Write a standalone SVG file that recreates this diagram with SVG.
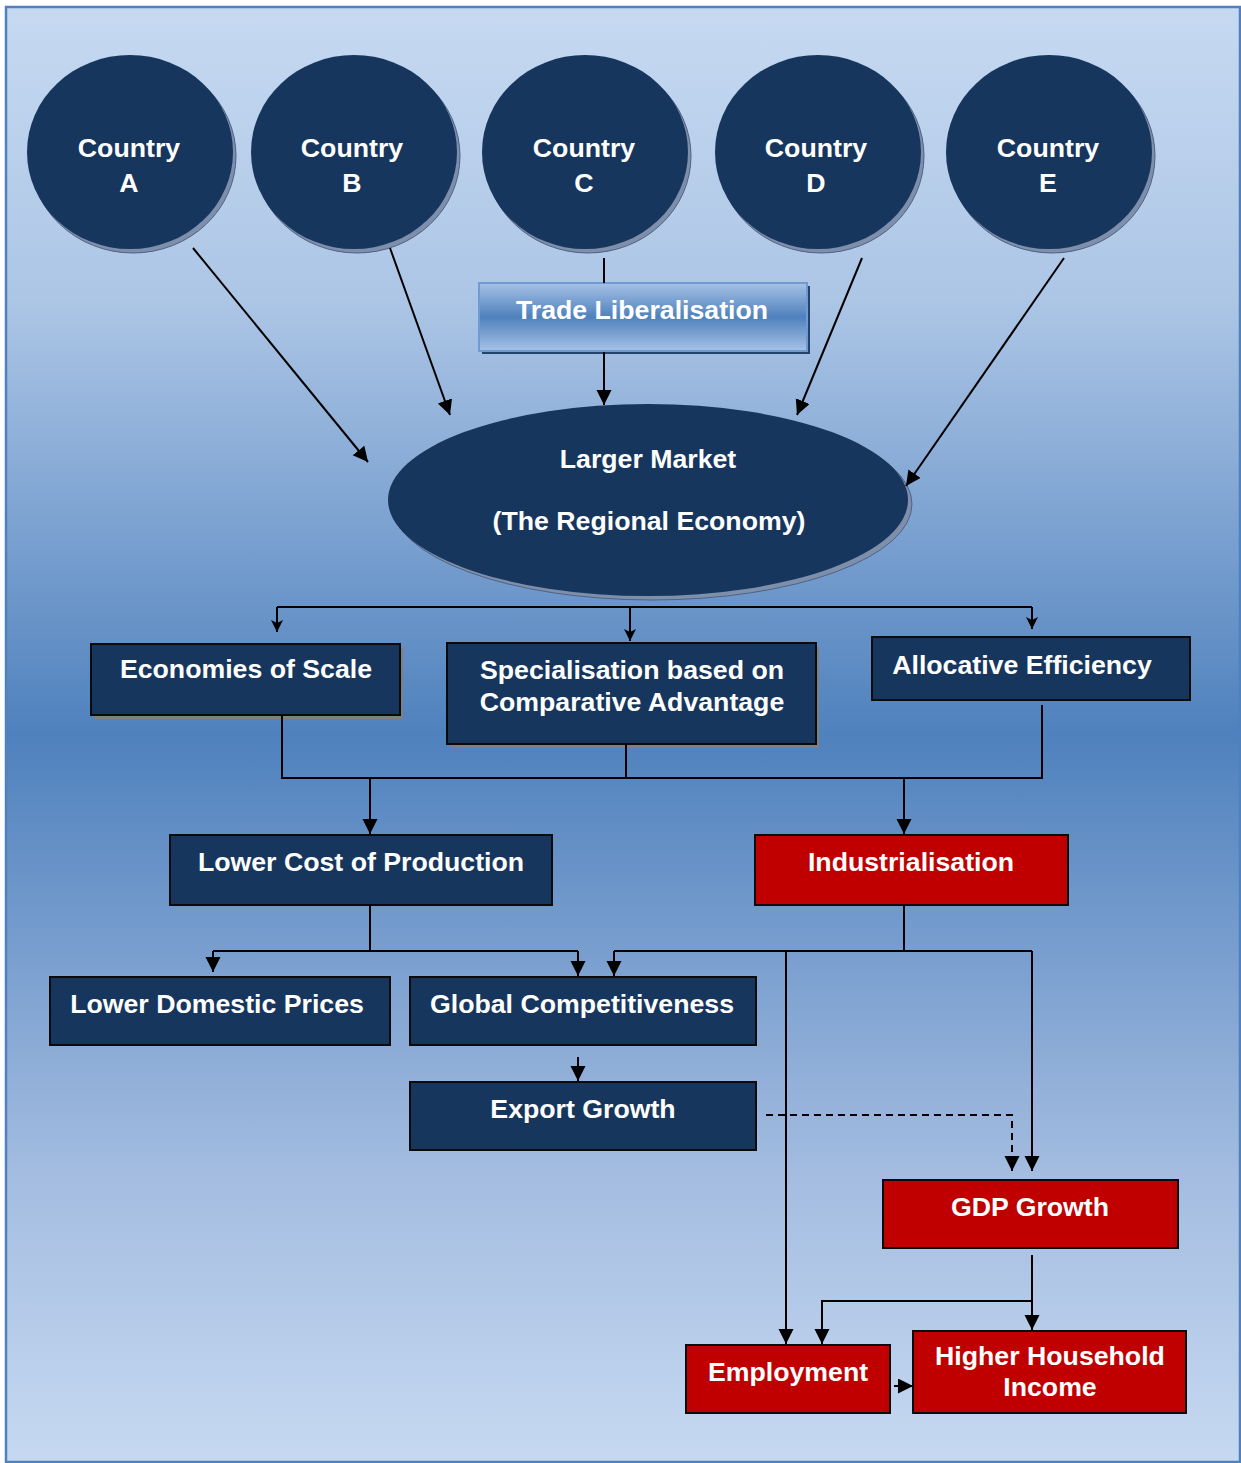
<svg xmlns="http://www.w3.org/2000/svg" width="1241" height="1463" viewBox="0 0 1241 1463">
<defs>
<linearGradient id="bg" x1="0" y1="0" x2="0" y2="1">
<stop offset="0" stop-color="#c6d9f1"/>
<stop offset="0.2" stop-color="#adc6e6"/>
<stop offset="0.5" stop-color="#4f81bd"/>
<stop offset="0.8" stop-color="#a3bce0"/>
<stop offset="1" stop-color="#c6d9f1"/>
</linearGradient>
<linearGradient id="tl" x1="0" y1="0" x2="0" y2="1">
<stop offset="0" stop-color="#a7c2e6"/>
<stop offset="0.5" stop-color="#4f81bd"/>
<stop offset="1" stop-color="#a7c2e6"/>
</linearGradient>
<marker id="ah" markerUnits="userSpaceOnUse" markerWidth="17" markerHeight="17" refX="15" refY="7.5" orient="auto">
<path d="M0,0 L15,7.5 L0,15 z" fill="#000"/>
</marker>
<marker id="as" markerUnits="userSpaceOnUse" markerWidth="14" markerHeight="14" refX="12" refY="6" orient="auto">
<path d="M0,0 L12,6 L0,12 L3,6 z" fill="#000"/>
</marker>
</defs>
<style>
.t{font-family:"Liberation Sans",Arial,sans-serif;font-weight:bold;font-size:26.7px;fill:#fff;text-anchor:middle}
.circ{fill:#17365d}
.csh{fill:#7d8fab;stroke:#4e6285;stroke-width:1}
.blue{fill:#17365d;stroke:#0b0b0b;stroke-width:2}
.red{fill:#c00000;stroke:#0b0b0b;stroke-width:2}
.sh{fill:#7f7f7f}
.ln{fill:none;stroke:#000;stroke-width:2}
.ar{fill:none;stroke:#000;stroke-width:2;marker-end:url(#ah)}
.sa{fill:none;stroke:#000;stroke-width:2;marker-end:url(#as)}
</style>
<rect x="6" y="7" width="1234" height="1455" fill="url(#bg)" stroke="#4f81bd" stroke-width="2.5"/>

<g id="countryA">
<ellipse class="csh" cx="133" cy="156" rx="103" ry="97"/>
<ellipse class="circ" cx="130" cy="152" rx="103" ry="97"/>
<text class="t" x="129" y="157">Country</text>
<text class="t" x="129" y="192">A</text>
</g>
<g id="countryB">
<ellipse class="csh" cx="357" cy="156" rx="103" ry="97"/>
<ellipse class="circ" cx="354" cy="152" rx="103" ry="97"/>
<text class="t" x="352" y="157">Country</text>
<text class="t" x="352" y="192">B</text>
</g>
<g id="countryC">
<ellipse class="csh" cx="588" cy="156" rx="103" ry="97"/>
<ellipse class="circ" cx="585" cy="152" rx="103" ry="97"/>
<text class="t" x="584" y="157">Country</text>
<text class="t" x="584" y="192">C</text>
</g>
<g id="countryD">
<ellipse class="csh" cx="821" cy="156" rx="103" ry="97"/>
<ellipse class="circ" cx="818" cy="152" rx="103" ry="97"/>
<text class="t" x="816" y="157">Country</text>
<text class="t" x="816" y="192">D</text>
</g>
<g id="countryE">
<ellipse class="csh" cx="1052" cy="156" rx="103" ry="97"/>
<ellipse class="circ" cx="1049" cy="152" rx="103" ry="97"/>
<text class="t" x="1048" y="157">Country</text>
<text class="t" x="1048" y="192">E</text>
</g>

<g id="tradeLib">
<rect x="482" y="286" width="328" height="68" fill="#24446e"/>
<rect x="479" y="283" width="328" height="68" fill="url(#tl)" stroke="#6f9bd2" stroke-width="2"/>
<text class="t" x="642" y="319">Trade Liberalisation</text>
</g>

<g id="largerMarket">
<ellipse class="csh" cx="652" cy="504" rx="260" ry="96"/>
<ellipse class="circ" cx="648" cy="500" rx="260" ry="96"/>
<text class="t" x="648" y="468">Larger Market</text>
<text class="t" x="649" y="530">(The Regional Economy)</text>
</g>

<g id="economies">
<rect class="sh" x="94" y="648" width="309" height="71"/>
<rect class="blue" x="91" y="644" width="309" height="71"/>
<text class="t" x="246" y="678">Economies of Scale</text>
</g>
<g id="specialisation">
<rect class="sh" x="450" y="647" width="369" height="101"/>
<rect class="blue" x="447" y="643" width="369" height="101"/>
<text class="t" x="632" y="679">Specialisation based on</text>
<text class="t" x="632" y="711">Comparative Advantage</text>
</g>
<g id="allocative">
<rect class="blue" x="872" y="637" width="318" height="63"/>
<text class="t" x="1022" y="674">Allocative Efficiency</text>
</g>

<g id="lowerCost">
<rect class="blue" x="170" y="835" width="382" height="70"/>
<text class="t" x="361" y="871">Lower Cost of Production</text>
</g>
<g id="industrialisation">
<rect class="red" x="755" y="835" width="313" height="70"/>
<text class="t" x="911" y="871">Industrialisation</text>
</g>

<g id="lowerPrices">
<rect class="blue" x="50" y="977" width="340" height="68"/>
<text class="t" x="217" y="1013">Lower Domestic Prices</text>
</g>
<g id="globalComp">
<rect class="blue" x="410" y="977" width="346" height="68"/>
<text class="t" x="582" y="1013">Global Competitiveness</text>
</g>
<g id="exportGrowth">
<rect class="blue" x="410" y="1082" width="346" height="68"/>
<text class="t" x="583" y="1118">Export Growth</text>
</g>
<g id="gdpGrowth">
<rect class="red" x="883" y="1180" width="295" height="68"/>
<text class="t" x="1030" y="1216">GDP Growth</text>
</g>
<g id="employment">
<rect class="red" x="686" y="1345" width="204" height="68"/>
<text class="t" x="788" y="1381">Employment</text>
</g>
<g id="household">
<rect class="red" x="913" y="1331" width="273" height="82"/>
<text class="t" x="1050" y="1365">Higher Household</text>
<text class="t" x="1050" y="1396">Income</text>
</g>

<g id="connectors">
<line class="ar" x1="193" y1="248" x2="368" y2="462"/>
<line class="ar" x1="390" y1="248" x2="450" y2="415"/>
<line class="ln" x1="604" y1="258" x2="604" y2="283"/>
<line class="ar" x1="604" y1="352" x2="604" y2="405"/>
<line class="ar" x1="862" y1="258" x2="797" y2="415"/>
<line class="ar" x1="1064" y1="258" x2="906" y2="486"/>

<path class="ln" d="M277,607 H1032"/>
<line class="sa" x1="277" y1="607" x2="277" y2="632"/>
<line class="sa" x1="630" y1="607" x2="630" y2="641"/>
<line class="sa" x1="1032" y1="607" x2="1032" y2="629"/>

<path class="ln" d="M282,715 V778 H1042 V705 M626,745 V778"/>
<line class="ar" x1="370" y1="778" x2="370" y2="834"/>
<line class="ar" x1="904" y1="778" x2="904" y2="834"/>

<path class="ln" d="M370,905 V951 M213,951 H578"/>
<line class="ar" x1="213" y1="951" x2="213" y2="972"/>
<line class="ar" x1="578" y1="951" x2="578" y2="976"/>
<path class="ln" d="M904,905 V951 M614,951 H1032"/>
<line class="ar" x1="614" y1="951" x2="614" y2="976"/>
<line class="ar" x1="786" y1="951" x2="786" y2="1344"/>
<line class="ar" x1="1032" y1="951" x2="1032" y2="1171"/>

<line class="ar" x1="578" y1="1057" x2="578" y2="1081"/>
<path class="ar" d="M766,1115 H1012 V1171" stroke-dasharray="7,5"/>

<line class="ar" x1="1032" y1="1255" x2="1032" y2="1330"/>
<path class="ar" d="M1032,1301 H822 V1344"/>
<line class="ar" x1="894" y1="1386" x2="913" y2="1386"/>
</g>
</svg>
